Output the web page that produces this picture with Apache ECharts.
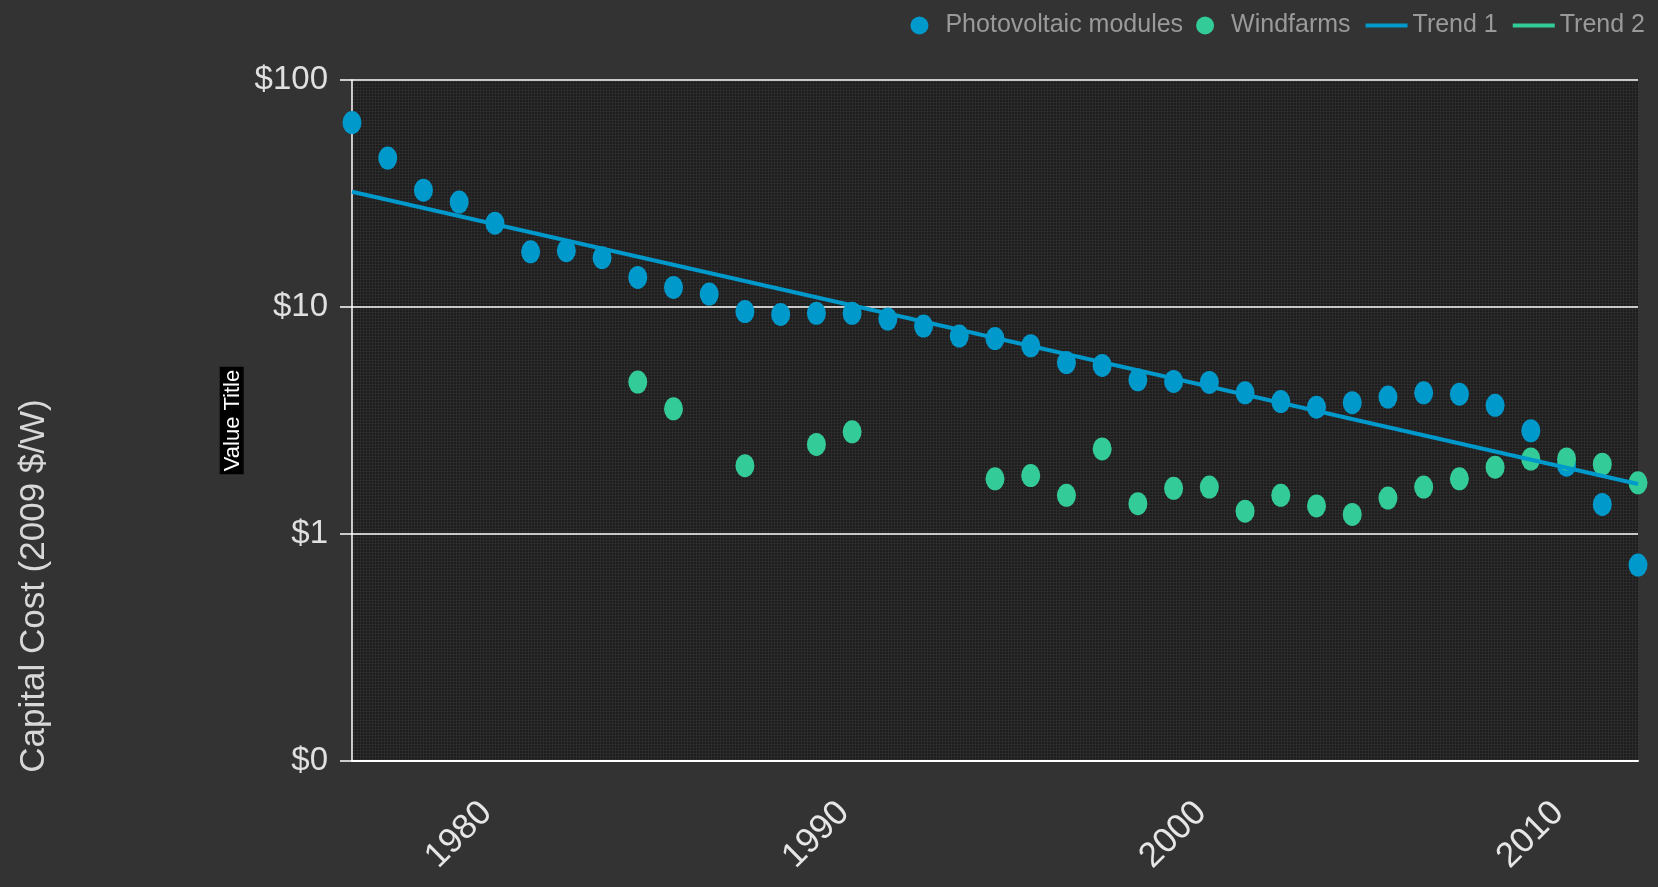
<!DOCTYPE html>
<html>
<head>
<meta charset="utf-8">
<script src="https://cdn.jsdelivr.net/npm/echarts@6/dist/echarts.min.js"></script>
<style>
html,body{margin:0;padding:0;background:#333333;}
#chart{width:1658px;height:887px;}
</style>
</head>
<body>
<div id="chart"></div>
<script>
// ---- data ----
const years = [1976,1977,1978,1979,1980,1981,1982,1983,1984,1985,1986,1987,1988,1989,1990,1991,1992,1993,1994,1995,1996,1997,1998,1999,2000,2001,2002,2003,2004,2005,2006,2007,2008,2009,2010,2011,2012];
const pvValues = [64.9,45.3,32.7,29.0,23.4,17.5,17.7,16.5,13.5,12.2,11.4,9.55,9.27,9.38,9.38,8.85,8.24,7.45,7.26,6.75,5.69,5.53,4.78,4.70,4.65,4.19,3.83,3.62,3.79,4.01,4.19,4.13,3.69,2.85,2.01,1.35,0.73];
const windYears = [1984,1985,1987,1989,1990,1994,1995,1996,1997,1998,1999,2000,2001,2002,2003,2004,2005,2006,2007,2008,2009,2010,2011,2012];
const windValues = [4.67,3.56,2.0,2.48,2.82,1.75,1.81,1.48,2.37,1.36,1.59,1.61,1.26,1.48,1.33,1.22,1.44,1.61,1.75,1.97,2.14,2.14,2.03,1.68];
const trend1Years = [1976,2012];
const trend1Values = [32.2,1.66];
const trend2Years = [];
const trend2Values = [];
const xTickLabels = [1980,1990,2000,2010];
const seriesNames = ['Photovoltaic modules','Windfarms','Trend 1','Trend 2'];
const yAxisTitle = 'Value Title';
const sideTitle = 'Capital Cost (2009 $/W)';

const pair = (xs, ys) => xs.map((x, i) => [x, ys[i]]);

// plot-area texture
const tile = document.createElement('canvas');
tile.width = 3; tile.height = 3;
const tc = tile.getContext('2d');
tc.fillStyle = '#1d1d1d'; tc.fillRect(0,0,3,3);
tc.fillStyle = '#2b2b2b'; tc.fillRect(0,0,3,1); tc.fillRect(0,0,1,3);

const BLUE = '#0099cc', GREEN = '#33cc99';
const FONT = 'Liberation Sans, Arial, sans-serif';

const chart = echarts.init(document.getElementById('chart'), null, {renderer:'canvas'});
chart.setOption({
  backgroundColor: '#333333',
  animation: false,
  grid: {
    left: 352, right: 20, top: 80, bottom: 126,
    show: true, borderWidth: 0,
    backgroundColor: {image: tile, repeat: 'repeat'}
  },
  legend: {
    data: [
      {name: seriesNames[0]},
      {name: seriesNames[1]},
      {name: seriesNames[2], itemStyle: {opacity: 0}, lineStyle: {width: 4}},
      {name: seriesNames[3], itemStyle: {opacity: 0}, lineStyle: {width: 4}}
    ],
    right: 8, top: 8,
    itemWidth: 42, itemHeight: 18, itemGap: 13,
    textStyle: {color: '#9a9a9a', fontSize: 25, fontFamily: FONT}
  },
  graphic: [{
    type: 'text',
    x: 34, y: 586,
    rotation: Math.PI / 2,
    style: {text: sideTitle, fill: '#d8d8d8', font: '35px Liberation Sans, Arial, sans-serif', align: 'center', verticalAlign: 'middle'}
  }],
  xAxis: {
    type: 'value',
    min: 1976, max: 2012,
    axisLine: {show: true, onZero: false, lineStyle: {color: '#ffffff', width: 2}},
    axisTick: {show: false},
    splitLine: {show: false},
    axisLabel: {
      customValues: xTickLabels,
      formatter: v => String(v),
      rotate: 45, margin: 38,
      padding: [0, 12, 0, 0],
      color: '#e6e6e6', fontSize: 35, fontFamily: FONT
    }
  },
  yAxis: {
    type: 'log', logBase: 10, min: 0.1, max: 100,
    name: yAxisTitle,
    nameLocation: 'middle', nameRotate: 90, nameGap: 96,
    nameTextStyle: {color: '#ffffff', fontSize: 22, fontFamily: FONT, backgroundColor: '#000000', padding: [2, 3, 0, 3]},
    axisLine: {show: true, lineStyle: {color: '#ffffff', width: 1.5}},
    axisTick: {show: true, length: 12, lineStyle: {color: '#ffffff', width: 1.5}},
    splitLine: {show: true, lineStyle: {color: '#ffffff', width: 1.5}},
    minorTick: {show: false},
    axisLabel: {
      margin: 24, color: '#e0e0e0', fontSize: 33, fontFamily: FONT,
      formatter: v => v >= 1 ? '$' + Math.round(v) : '$0'
    }
  },
  series: [
    {
      name: seriesNames[0], type: 'scatter', clip: false,
      symbol: 'circle', symbolSize: [19, 23],
      itemStyle: {color: BLUE, opacity: 1},
      data: pair(years, pvValues)
    },
    {
      name: seriesNames[1], type: 'scatter', clip: false,
      symbol: 'circle', symbolSize: [19, 23],
      itemStyle: {color: GREEN, opacity: 1},
      data: pair(windYears, windValues)
    },
    {
      name: seriesNames[2], type: 'line', showSymbol: false, symbol: 'none',
      lineStyle: {color: BLUE, width: 4}, itemStyle: {color: BLUE},
      data: pair(trend1Years, trend1Values)
    },
    {
      name: seriesNames[3], type: 'line', showSymbol: false, symbol: 'none',
      lineStyle: {color: GREEN, width: 4}, itemStyle: {color: GREEN},
      data: pair(trend2Years, trend2Values)
    }
  ]
});
</script>
</body>
</html>
